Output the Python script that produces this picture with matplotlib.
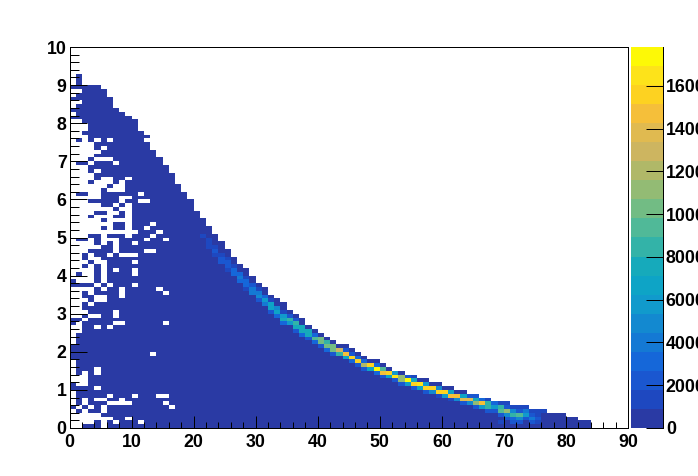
# 二维直方图 (ROOT colz 风格)
import numpy as np
import matplotlib
matplotlib.use('Agg')
import matplotlib.pyplot as plt
from matplotlib.colors import ListedColormap, BoundaryNorm

plt.rcParams['font.family'] = ['Liberation Sans', 'DejaVu Sans']
plt.rcParams['font.weight'] = 'bold'

# 每一列的高度 (bin 数), 第 0 ~ 89 列
column_height = [90, 93, 90, 90, 90, 89, 87, 84, 83, 82,
                 81, 78, 77, 73, 71, 69, 67, 64, 62, 60,
                 57, 55, 53, 51, 49, 47, 45, 43, 42, 40,
                 38, 37, 35, 34, 33, 31, 30, 29, 27, 26,
                 25, 24, 23, 22, 22, 21, 20, 19, 18, 18,
                 17, 16, 15, 15, 14, 14, 13, 13, 12, 12,
                 11, 11, 10, 10, 9, 9, 8, 8, 7, 7,
                 7, 6, 6, 6, 5, 5, 5, 4, 4, 4,
                 3, 3, 2, 2, 0, 0, 0, 0, 0, 0]

# 每一行有内容的列 (first, last), 从 y bin 92 开始往下
filled_runs = [
    [(1, 1)], [(1, 1)], [(0, 1)], [(0, 4)], [(2, 5)],
    [(1, 5)], [(0, 6)], [(2, 6)], [(1, 6)], [(0, 7)],
    [(1, 8)], [(0, 9)], [(2, 10)], [(3, 10)], [(3, 10)],
    [(2, 11)], [(3, 12)], [(1, 1), (3, 3), (5, 5), (7, 11)], [(4, 12)], [(4, 4), (6, 12)],
    [(5, 13)], [(4, 13)], [(3, 3), (7, 14)], [(1, 2), (4, 6), (8, 14)], [(3, 89)],
    [(3, 3), (5, 89)], [(4, 89)], [(4, 4), (7, 8), (10, 89)], [(3, 3), (7, 7), (9, 89)], [(6, 6), (9, 89)],
    [(5, 5), (9, 89)], [(1, 2), (5, 10), (12, 89)], [(5, 7), (10, 89)], [(3, 7), (9, 10), (13, 89)], [(5, 6), (8, 8), (10, 89)],
    [(7, 7), (10, 89)], [(4, 5), (8, 8), (10, 89)], [(3, 3), (7, 8), (10, 89)], [(5, 5), (10, 89)], [(7, 8), (10, 12), (14, 89)],
    [(5, 5), (7, 8), (10, 11), (13, 89)], [(11, 13), (15, 89)], [(3, 4), (6, 8), (10, 12), (14, 89)], [(1, 2), (4, 4), (8, 11), (13, 14), (16, 89)], [(4, 4), (6, 6), (8, 9), (11, 89)],
    [(5, 6), (8, 89)], [(3, 6), (8, 11), (14, 89)], [(2, 2), (4, 5), (7, 7), (11, 89)], [(2, 2), (5, 89)], [(3, 3), (6, 9), (11, 89)],
    [(2, 2), (4, 4), (6, 89)], [(4, 4), (6, 6), (8, 9), (11, 89)], [(1, 1), (4, 4), (6, 9), (11, 89)], [(4, 4), (6, 89)], [(0, 0), (4, 4), (6, 89)],
    [(0, 3), (5, 5), (7, 9), (11, 89)], [(4, 4), (6, 7), (9, 13), (15, 89)], [(2, 2), (4, 7), (9, 14), (16, 89)], [(2, 3), (6, 7), (9, 89)], [(3, 3), (6, 89)],
    [(2, 2), (4, 89)], [(2, 89)], [(3, 6), (8, 89)], [(2, 2), (5, 6), (8, 89)], [(0, 1), (3, 89)],
    [(0, 0), (2, 6), (9, 14), (16, 89)], [(2, 3), (5, 5), (7, 89)], [(2, 89)], [(1, 89)], [(1, 89)],
    [(1, 89)], [(0, 89)], [(0, 89)], [(0, 12), (14, 89)], [(0, 89)],
    [(1, 89)], [(1, 89)], [(1, 3), (5, 89)], [(1, 1), (3, 3), (5, 89)], [(3, 89)],
    [(3, 89)], [(0, 0), (3, 89)], [(0, 3), (5, 89)], [(1, 89)], [(1, 5), (7, 9), (11, 13), (16, 89)],
    [(1, 1), (3, 3), (6, 7), (9, 89)], [(1, 1), (3, 5), (10, 14), (16, 89)], [(0, 0), (2, 2), (4, 4), (6, 15), (17, 89)], [(1, 1), (3, 4), (6, 89)], [(5, 89)],
    [(7, 8), (10, 89)], [(4, 4), (6, 6), (8, 10), (12, 89)], [(2, 4), (6, 89)],
]
top_filled_bin = 92
background_count = 300

# 高亮带: 每列最上面一个 bin 和从上到下的计数, 从第 21 列开始
ridge_first_col = 21
ridge_top_bin = [50, 49, 47, 45, 44, 42, 40, 39, 37, 36,
                 34, 33, 31, 30, 29, 28, 26, 25, 24, 23,
                 22, 21, 20, 20, 19, 18, 17, 16, 16, 15,
                 14, 14, 13, 13, 13, 11, 11, 10, 10, 9,
                 9, 8, 8, 8, 8, 7, 7, 6, 6, 6,
                 5, 5, 5, 4, 4, 4]
ridge_counts = [
    [1300], [1300, 1300, 1300], [1300, 2200, 1300], [1300, 2200, 2200], [1300, 2200, 2200, 1300],
    [1300, 3100, 3100], [3100, 4000, 3100], [1300, 3100, 3100, 1300], [2200, 4000, 4000], [1300, 4000, 4900, 2200],
    [3100, 5800, 4000], [1300, 6700, 6700, 2200], [4900, 6700, 3100], [1300, 5800, 7600, 3100], [2200, 8500, 5800],
    [2200, 8500, 7600, 2200], [7600, 7600, 3100], [7600, 7600, 2200], [3100, 9400, 3100], [10200, 10200, 2200],
    [8500, 10200, 3100], [10200, 10200, 2200], [12900, 8500], [2200, 14700, 6700], [2200, 15600, 3100],
    [3100, 15600, 2200], [3100, 12000, 2200], [15600, 6700], [3100, 17400, 3100], [9400, 14700, 2200],
    [15600, 6700], [5800, 16500, 2200], [11100, 11100, 2200], [2200, 17400, 5800], [1300, 7600, 15600, 2200],
    [16500, 6700], [5800, 15600, 2200], [15600, 4900], [4900, 15600, 1300], [15600, 5800],
    [6700, 14700, 1300], [14700, 4900], [6700, 13800, 2200], [2200, 13800, 4900], [2200, 7600, 11100, 2200],
    [3100, 14700, 5800], [1300, 8500, 8500, 2200], [3100, 5800, 2200], [1300, 8500, 9400, 2200, 300, 1300],
    [1300, 2200, 11100, 4900, 2200], [1300, 4900, 8500, 3100, 2200], [1300, 2200, 9400, 4900, 2200], [1300, 4000, 5800, 2200],
    [1300, 2200, 4000, 2200], [1300, 1300, 2200, 1300], [1300],
]

# 调色板 (从下到上 20 级)
palette_colors = ['#2a3aa4', '#1e48c0', '#1a57d0', '#1567d9', '#1479d4',
                  '#1389d0', '#119acc', '#0ea4c6', '#16aabb', '#33b3a8',
                  '#50b998', '#72bc84', '#93bb74', '#b0b868', '#cdb560',
                  '#e0ba50', '#f5bf3a', '#fdd221', '#fde31a', '#fdf906']
z_max = 17824
z_ticks = [0, 2000, 4000, 6000, 8000, 10000, 12000, 14000, 16000]

x_ticks = [0, 10, 20, 30, 40, 50, 60, 70, 80, 90]
y_ticks = [0, 1, 2, 3, 4, 5, 6, 7, 8, 9, 10]

# 填充二维数组
z = np.full((100, 90), np.nan)
for i, runs in enumerate(filled_runs):
    y_bin = top_filled_bin - i
    for first, last in runs:
        for x_bin in range(first, last + 1):
            if y_bin < column_height[x_bin]:
                z[y_bin, x_bin] = background_count
for i, counts in enumerate(ridge_counts):
    for j, c in enumerate(counts):
        z[ridge_top_bin[i] - j, ridge_first_col + i] = c

levels = np.linspace(0, z_max, len(palette_colors) + 1)
cmap = ListedColormap(palette_colors)
norm = BoundaryNorm(levels, cmap.N)

W, H = 698, 476
fig = plt.figure(figsize=(W / 100, H / 100), dpi=100)
ax = fig.add_axes([69.5 / W, 1 - 428 / H, 558.5 / W, 381 / H])
ax.pcolormesh(np.linspace(0, 90, 91), np.linspace(0, 10, 101), z, cmap=cmap, norm=norm)
ax.set_xlim(0, 90)
ax.set_ylim(0, 10)
ax.set_axisbelow(False)
ax.set_xticks(x_ticks)
ax.set_yticks(y_ticks)
ax.set_xticks(np.arange(0, 90, 2), minor=True)
ax.set_yticks(np.arange(0, 10, 0.2), minor=True)
ax.tick_params(axis='x', which='major', direction='in', length=8.3, width=0.72, labelsize=12.8, pad=4)
ax.tick_params(axis='x', which='minor', direction='in', length=4.3, width=0.72)
ax.tick_params(axis='y', which='major', direction='in', length=12.2, width=0.72, labelsize=12.8, pad=2)
ax.tick_params(axis='y', which='minor', direction='in', length=6.3, width=0.72)
for s in ax.spines.values():
    s.set_linewidth(0.72)

# 右边的颜色条
cax = fig.add_axes([631 / W, 1 - 428 / H, 32 / W, 381 / H])
cax.pcolormesh([0, 1], levels, np.array(levels[:-1] + np.diff(levels) / 2).reshape(-1, 1), cmap=cmap, norm=norm)
cax.set_ylim(0, z_max)
cax.set_xticks([])
cax.set_axisbelow(False)
cax.yaxis.tick_right()
cax.set_yticks(z_ticks)
cax.tick_params(axis='y', direction='in', length=12.2, width=0.72, labelsize=12.8, pad=2)
for name, s in cax.spines.items():
    s.set_visible(name == 'right')
    s.set_linewidth(0.72)

fig.savefig('out.png', dpi=100)
